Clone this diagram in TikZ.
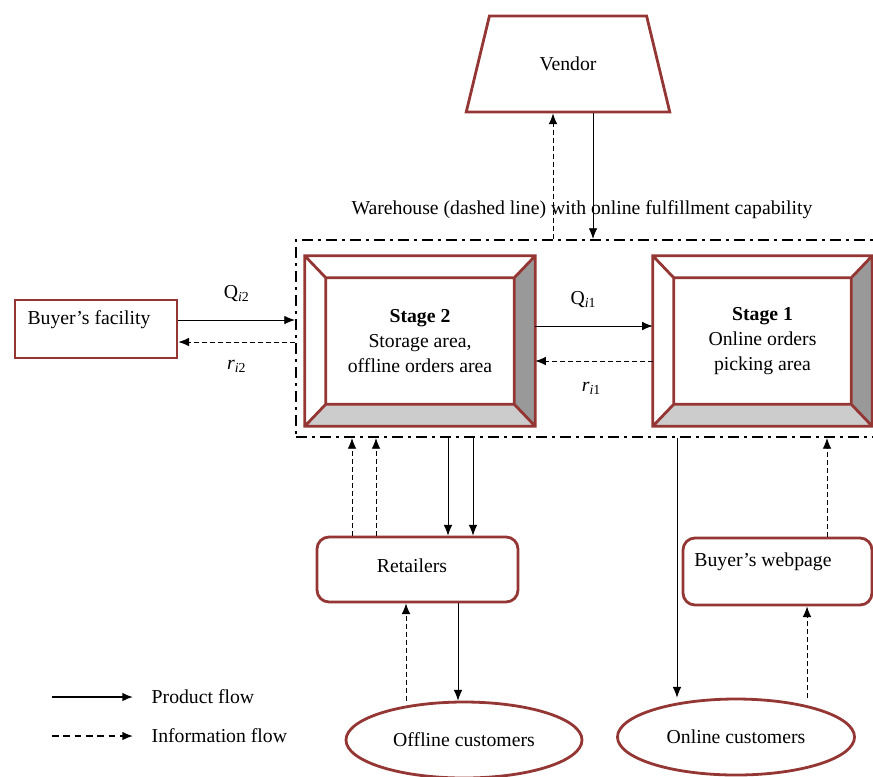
\documentclass[tikz,border=0pt]{standalone}
\usepackage{fontspec}
\setmainfont{Liberation Serif}
\usetikzlibrary{shapes.geometric, arrows.meta, positioning, calc}

\definecolor{brickred}{HTML}{943634}
\definecolor{sidegray}{HTML}{999999}
\definecolor{basegray}{HTML}{CCCCCC}

% bevelled frame round a stage node
\newcommand{\bevel}[1]{%
  \coordinate (#1a) at ($(#1.north west)+(21,22)$);
  \coordinate (#1b) at ($(#1.north east)+(-21,22)$);
  \coordinate (#1c) at ($(#1.south east)+(-21,-22)$);
  \coordinate (#1d) at ($(#1.south west)+(21,-22)$);
  \fill[sidegray] (#1.north east) -- (#1.south east) -- (#1c) -- (#1b) -- cycle;
  \fill[basegray] (#1.south west) -- (#1.south east) -- (#1c) -- (#1d) -- cycle;
  \draw[edge] (#1.north west) rectangle (#1.south east) (#1a) rectangle (#1c)
    (#1.north west) -- (#1a) (#1.north east) -- (#1b)
    (#1.south east) -- (#1c) (#1.south west) -- (#1d);
}

\begin{document}
\begin{tikzpicture}[x=0.75pt, y=-0.75pt, font=\fontsize{14.8}{18.75}\selectfont]
\tikzstyle{edge} = [draw=brickred, line width=2.1pt, line join=miter]
\tikzstyle{box} = [rectangle, edge]
\tikzstyle{roundbox} = [rectangle, edge, rounded corners=9pt]
\tikzstyle{oval} = [ellipse, edge]
\tikzstyle{stage} = [rectangle, align=center, inner sep=0pt, minimum height=127.5pt]
\tikzstyle{house} = [rectangle, draw, line width=1.6pt, dash pattern=on 8pt off 4pt on 2pt off 4pt]
\tikzstyle{product} = [-{Latex[length=8pt, width=6.5pt]}, line width=0.7pt]
\tikzstyle{info} = [product, dash pattern=on 3.5pt off 2.5pt]

\fill[white] (0,0) rectangle (873,776);
\useasboundingbox (0,0) rectangle (873,776);

  % vendor and warehouse
  \node[trapezium, edge, trapezium stretches=true, trapezium left angle=67, trapezium right angle=67,
        minimum width=153pt, minimum height=72pt] (vd) at (568,64) {Vendor};
  \node (whlabel) at (582,210) {Warehouse (dashed line) with online fulfillment capability};
  \node[house, minimum width=436.5pt, minimum height=147.75pt] (wh) at (587,338.5) {};

  % the two stages
  \node[stage, minimum width=172.5pt] (s2) at (420,341)
    {\textbf{Stage 2}\\Storage area,\\offline orders area};
  \bevel{s2}
  \node[stage, minimum width=164.25pt] (s1) at (762.5,341)
    {\textbf{Stage 1}\\Online orders\\picking area};
  \bevel{s1}

  % outside parties
  \node[box, minimum width=121.5pt, minimum height=43.5pt] (bf) at (96,329) {};
  \node (bflabel) at (89,320) {Buyer’s facility};
  \node[roundbox, minimum width=150.75pt, minimum height=48.75pt] (ret) at (417.5,569.5) {};
  \node (retlabel) at (412,566) {Retailers};
  \node[roundbox, minimum width=141.75pt, minimum height=50.25pt] (web) at (777.5,571.5) {};
  \node (weblabel) at (763,562) {Buyer’s webpage};
  \node[oval, minimum width=177pt, minimum height=57pt] (off) at (464,740) {Offline customers};
  \node[oval, minimum width=177.75pt, minimum height=57pt] (onl) at (736,737) {Online customers};

  % flows
  \draw[info] (wh.north -| 553,0) -- (vd.south -| 553,0);
  \draw[product] (vd.south -| 593,0) -- (wh.north -| 593,0);
  \draw[product] (bf.east |- 0,320) -- (wh.west |- 0,320)
    node[midway, above=10pt] {Q\textsubscript{\textit{i}2}};
  \draw[info] (wh.west |- 0,342) -- (bf.east |- 0,342)
    node[midway, below=10pt] {\textit{r}\textsubscript{\textit{i}2}};
  \draw[product] (s2.east |- 0,326) -- (s1.west |- 0,326)
    node[midway, above=10pt, xshift=-8pt] {Q\textsubscript{\textit{i}1}};
  \draw[info] (s1.west |- 0,361) -- (s2.east |- 0,361)
    node[midway, below=12pt, xshift=-2pt] {\textit{r}\textsubscript{\textit{i}1}};
  \foreach \xx in {352,376}
    \draw[info] (ret.north -| \xx,0) -- (wh.south -| \xx,0);
  \foreach \xx in {448,473}
    \draw[product] (wh.south -| \xx,0) -- (ret.north -| \xx,0);
  \draw[product] (ret.south -| 458,0) -- (off.north -| 458,0);
  \draw[info] (off.north -| 406,0) -- (ret.south -| 406,0);
  \draw[product] (wh.south -| 677,0) -- (onl.north -| 677,0);
  \draw[info] (onl.north -| 807,0) -- (web.south -| 807,0);
  \draw[info] (web.north -| 827,0) -- (wh.south -| 827,0);

  % legend
  \node[anchor=west] (lgprod) at (147,697) {Product flow};
  \node[anchor=west] (lginfo) at (147,736) {Information flow};
  \coordinate (lgp) at (52,697);
  \coordinate (lgi) at (52,736);
  \draw[product, line width=1.3pt] (lgp) -- ++(81,0);
  \draw[info, line width=1.3pt, dash pattern=on 5pt off 3.5pt] (lgi) -- ++(81,0);
\end{tikzpicture}
\end{document}
